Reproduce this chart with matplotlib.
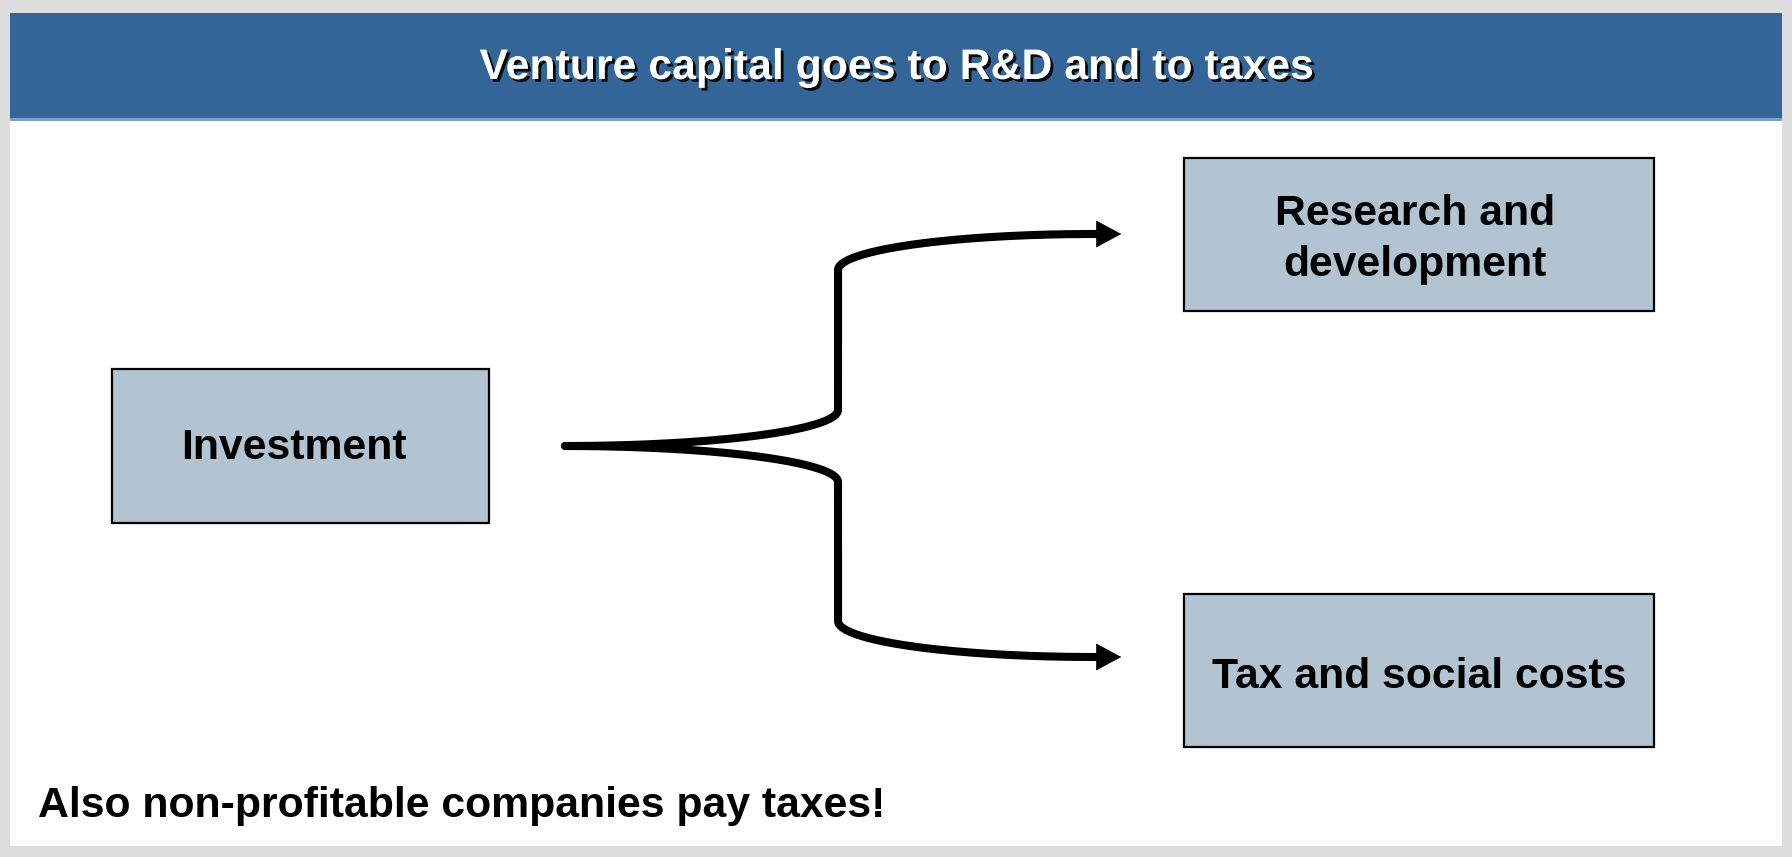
import numpy as np
import matplotlib
matplotlib.use("Agg")
import matplotlib.pyplot as plt
from matplotlib.patches import Rectangle, FancyArrowPatch
import matplotlib.patheffects as pe

# ---- content ----
title = "Venture capital goes to R&D and to taxes"
source_label = "Investment"
target_labels = ["Research and\ndevelopment", "Tax and social costs"]
footnote = "Also non-profitable companies pay taxes!"

# ---- layout (pixel coordinates of the 1792x857 canvas) ----
W, H = 1792, 857
panel = (10, 13, 1782, 846)           # x0, y0, x1, y1
title_bar_bottom = 118
src_box = (112, 369, 489, 523)
src_text_dx = -7
tgt_boxes = [(1184, 158, 1654, 311), (1184, 594, 1654, 747)]
tgt_text_dx = [-4, 0]
tgt_text_dy = [4, 5]
apex = (565, 446)
spine_x = 838
branch_y = [234, 657]
arrow_tip_x = 1124
ry = 36

FONT = ["Liberation Sans", "DejaVu Sans"]
BOX_FC = "#b2c4d1"
BAR_C = "#336598"
FS = 30.8

fig = plt.figure(figsize=(W / 100, H / 100), dpi=100)
fig.patch.set_facecolor("#dddddd")
ax = fig.add_axes([0, 0, 1, 1])
ax.set_xlim(0, W)
ax.set_ylim(H, 0)
ax.axis("off")

# panel
x0, y0, x1, y1 = panel
ax.add_patch(Rectangle((x0, y0), x1 - x0, y1 - y0, facecolor="white", edgecolor="none"))
ax.add_patch(Rectangle((x0, y0), x1 - x0, title_bar_bottom - y0, facecolor=BAR_C, edgecolor="none"))
ax.add_patch(Rectangle((x0, title_bar_bottom), x1 - x0, 3, facecolor="#7fa0c4", edgecolor="none"))

ax.text((x0 + x1) / 2, 68, title, ha="center", va="center", fontsize=FS,
        fontweight="bold", color="white", family=FONT,
        path_effects=[pe.withSimplePatchShadow(offset=(2, -2), shadow_rgbFace="black", alpha=0.9)])

def box(b, label, dx=0, dy=0):
    bx0, by0, bx1, by1 = b
    ax.add_patch(Rectangle((bx0, by0), bx1 - bx0, by1 - by0, facecolor=BOX_FC,
                           edgecolor="black", linewidth=1.6))
    ax.text((bx0 + bx1) / 2 + dx, (by0 + by1) / 2 + 1 + dy, label, ha="center", va="center",
            fontsize=FS, fontweight="bold", color="black", family=FONT, linespacing=1.38)

box(src_box, source_label, src_text_dx, 1)
for b, lab, dx, dy in zip(tgt_boxes, target_labels, tgt_text_dx, tgt_text_dy):
    box(b, lab, dx, dy)

# brace-like connector
lw = 5.8
ax_apex, ay_apex = apex
rx1 = spine_x - ax_apex
t = np.linspace(0, np.pi / 2, 80)
for sgn, by in zip([-1, 1], branch_y):
    cy = ay_apex + sgn * ry
    xs1 = ax_apex + rx1 * np.sin(t)
    ys1 = cy - sgn * ry * np.cos(t)
    cy2 = by - sgn * ry
    rx2 = arrow_tip_x - 30 - spine_x
    xs3 = spine_x + rx2 * (1 - np.cos(t))
    ys3 = cy2 + sgn * ry * np.sin(t)
    xs = np.concatenate([xs1, [spine_x, spine_x], xs3, [arrow_tip_x - 18]])
    ys = np.concatenate([ys1, [cy, cy2], ys3, [by]])
    ax.plot(xs, ys, color="black", lw=lw, solid_capstyle="round", solid_joinstyle="round")
    ax.add_patch(FancyArrowPatch((arrow_tip_x - 24, by), (arrow_tip_x, by),
                                 arrowstyle="-|>,head_length=1.15,head_width=0.62",
                                 mutation_scale=15, color="black", lw=0.5))

ax.text(38, 806, footnote, ha="left", va="center", fontsize=FS, fontweight="bold",
        color="black", family=FONT)

fig.savefig("out.png", dpi=100, facecolor=fig.get_facecolor())
